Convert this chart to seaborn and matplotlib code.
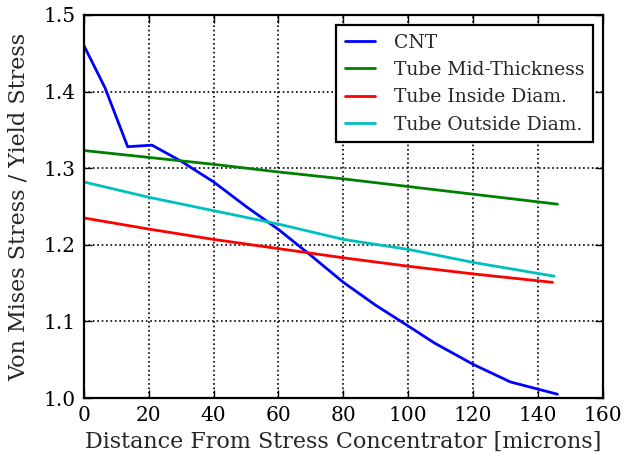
import numpy as np
import pandas as pd
import matplotlib
matplotlib.use("Agg")
import matplotlib.pyplot as plt
import seaborn as sns

# values
cnt_x = [0, 6.5, 13.5, 21, 30, 40, 50, 60, 70, 80, 90, 100, 108, 120, 131.5, 146]
cnt_y = [1.460, 1.405, 1.328, 1.330, 1.309, 1.282, 1.250, 1.220, 1.186, 1.151,
         1.121, 1.094, 1.072, 1.044, 1.021, 1.005]

tube_x = [0, 20, 40, 60, 80, 100, 120, 146]
mid_y = [1.323, 1.314, 1.305, 1.295, 1.286, 1.276, 1.266, 1.253]
inside_x = [0, 20, 40, 60, 80, 100, 120, 144.5]
inside_y = [1.235, 1.2205, 1.207, 1.195, 1.183, 1.172, 1.162, 1.151]
outside_x = [0, 20, 40, 60, 80, 100, 120, 145]
outside_y = [1.282, 1.262, 1.2445, 1.227, 1.207, 1.194, 1.177, 1.159]

labels = ["CNT", "Tube Mid-Thickness", "Tube Inside Diam.", "Tube Outside Diam."]
colors = ["#0000ff", "#008000", "#ff0000", "#00bfbf"]

frames = []
for lab, xs, ys in zip(labels,
                       [cnt_x, tube_x, inside_x, outside_x],
                       [cnt_y, mid_y, inside_y, outside_y]):
    frames.append(pd.DataFrame({"x": xs, "y": ys, "series": lab}))
df = pd.concat(frames, ignore_index=True)

sns.set_style("ticks")
plt.rcParams["font.family"] = ["DejaVu Serif"]

fig = plt.figure(figsize=(6.26, 4.65), dpi=100)
ax = fig.add_axes([0.134, 0.144, 0.829, 0.824])

sns.lineplot(data=df, x="x", y="y", hue="series", hue_order=labels,
             palette=dict(zip(labels, colors)), linewidth=2, sort=False,
             estimator=None, ax=ax)

ax.set_xlim(0, 160)
ax.set_ylim(1.0, 1.5)
ax.set_xticks(np.arange(0, 161, 20))
ax.set_yticks([1.0, 1.1, 1.2, 1.3, 1.4, 1.5])
ax.grid(True, color="black", linestyle=":", linewidth=1.2)
ax.tick_params(direction="in", top=True, right=True, length=6, width=1,
               labelsize=14.5, colors="black", pad=6)
for s in ax.spines.values():
    s.set_visible(True)
    s.set_linewidth(1.6)
    s.set_color("black")

ax.set_xlabel("Distance From Stress Concentrator [microns]", fontsize=16,
              labelpad=4)
ax.set_ylabel("Von Mises Stress / Yield Stress", fontsize=16, labelpad=10)

leg = ax.legend(loc="upper right", fontsize=13.5, fancybox=False,
                framealpha=1, edgecolor="black", handlelength=1.6,
                handletextpad=1.0, borderpad=0.45, labelspacing=0.5,
                borderaxespad=0.55)
leg.get_frame().set_linewidth(1.6)

fig.savefig("out.png", dpi=100)
